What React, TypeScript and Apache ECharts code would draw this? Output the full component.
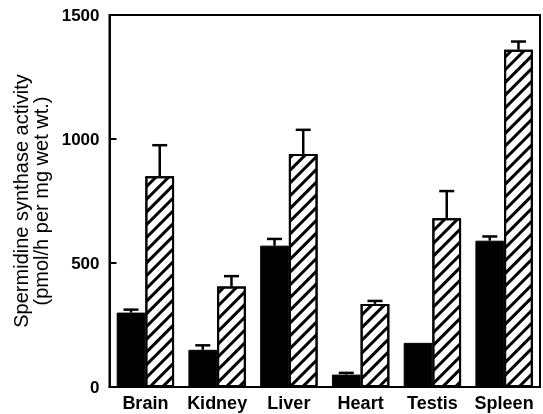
import React, { useEffect, useRef } from "react";
import * as echarts from "echarts";

const categories = ["Brain", "Kidney", "Liver", "Heart", "Testis", "Spleen"];
const controlValues = [300, 150, 570, 50, 178, 590];
const controlErrors = [12, 18, 27, 7, 0, 17];
const treatedValues = [850, 405, 940, 335, 680, 1360];
const treatedErrors = [125, 42, 97, 12, 110, 33];
const yTicks = { min: 0, max: 1500, interval: 500 };
const yName = "Spermidine synthase activity\n(pmol/h per mg wet wt.)";

const FONT = "'Liberation Sans', Arial, Helvetica, sans-serif";

function errorSeries(values: number[], errors: number[], offset: number) {
  return {
    type: "custom",
    z: 5,
    encode: { x: 0, y: 1 },
    data: values.map((v, i) => [i, v, errors[i]]),
    renderItem: (params: any, api: any) => {
      const err = api.value(2);
      if (!err) return null;
      const cat = api.value(0);
      const val = api.value(1);
      const base = api.coord([cat, val]);
      const top = api.coord([cat, val + err]);
      const bw = api.size([1, 0])[0];
      const x = base[0] + offset * bw;
      const style = { stroke: "#000", lineWidth: 2.5 };
      return {
        type: "group",
        children: [
          { type: "line", shape: { x1: x, y1: base[1], x2: x, y2: top[1] }, style },
          { type: "line", shape: { x1: x - 7.5, y1: top[1], x2: x + 7.5, y2: top[1] }, style },
        ],
      };
    },
  };
}

export default function App() {
  const ref = useRef<HTMLDivElement>(null);
  useEffect(() => {
    if (!ref.current) return;
    const chart = echarts.init(ref.current, null, { renderer: "svg" });
    chart.setOption({
      animation: false,
      grid: {
        left: 109.5,
        right: 3,
        top: 15,
        bottom: 27,
        show: true,
        borderColor: "#000",
        borderWidth: 2,
        containLabel: false,
      },
      xAxis: {
        type: "category",
        data: categories,
        axisLine: { lineStyle: { color: "#000", width: 2 } },
        axisTick: { show: false },
        axisLabel: {
          interval: 0,
          color: "#000",
          fontFamily: FONT,
          fontWeight: "bold",
          fontSize: 18,
          margin: 7,
        },
      },
      yAxis: {
        type: "value",
        min: yTicks.min,
        max: yTicks.max,
        interval: yTicks.interval,
        name: yName,
        nameLocation: "middle",
        nameGap: 54,
        nameTextStyle: {
          color: "#000",
          fontFamily: FONT,
          fontSize: 20,
          lineHeight: 20,
        },
        axisLine: { show: true, lineStyle: { color: "#000", width: 2 } },
        axisTick: { show: true, inside: true, length: 7, lineStyle: { color: "#000", width: 2 } },
        splitLine: { show: false },
        axisLabel: {
          color: "#000",
          fontFamily: FONT,
          fontWeight: "bold",
          fontSize: 17,
          margin: 10,
          formatter: (v: number) => String(v),
        },
      },
      series: [
        {
          type: "bar",
          data: controlValues,
          barWidth: "40%",
          barGap: "0%",
          itemStyle: { color: "#000", borderColor: "#000", borderWidth: 1 },
        },
        {
          type: "bar",
          data: treatedValues,
          barWidth: "40%",
          barGap: "0%",
          itemStyle: {
            color: "#fff",
            borderColor: "#000",
            borderWidth: 2,
            decal: {
              symbol: "rect",
              symbolSize: 1,
              color: "#000",
              dashArrayX: [1, 0],
              dashArrayY: [2.4, 5.6],
              rotation: -Math.PI / 4,
            },
          },
        },
        errorSeries(controlValues, controlErrors, -0.2),
        errorSeries(treatedValues, treatedErrors, 0.2),
      ],
    });
    return () => chart.dispose();
  }, []);
  return (
    <div
      ref={ref}
      style={{ position: "fixed", left: 0, top: 0, width: 543, height: 414 }}
    />
  );
}
